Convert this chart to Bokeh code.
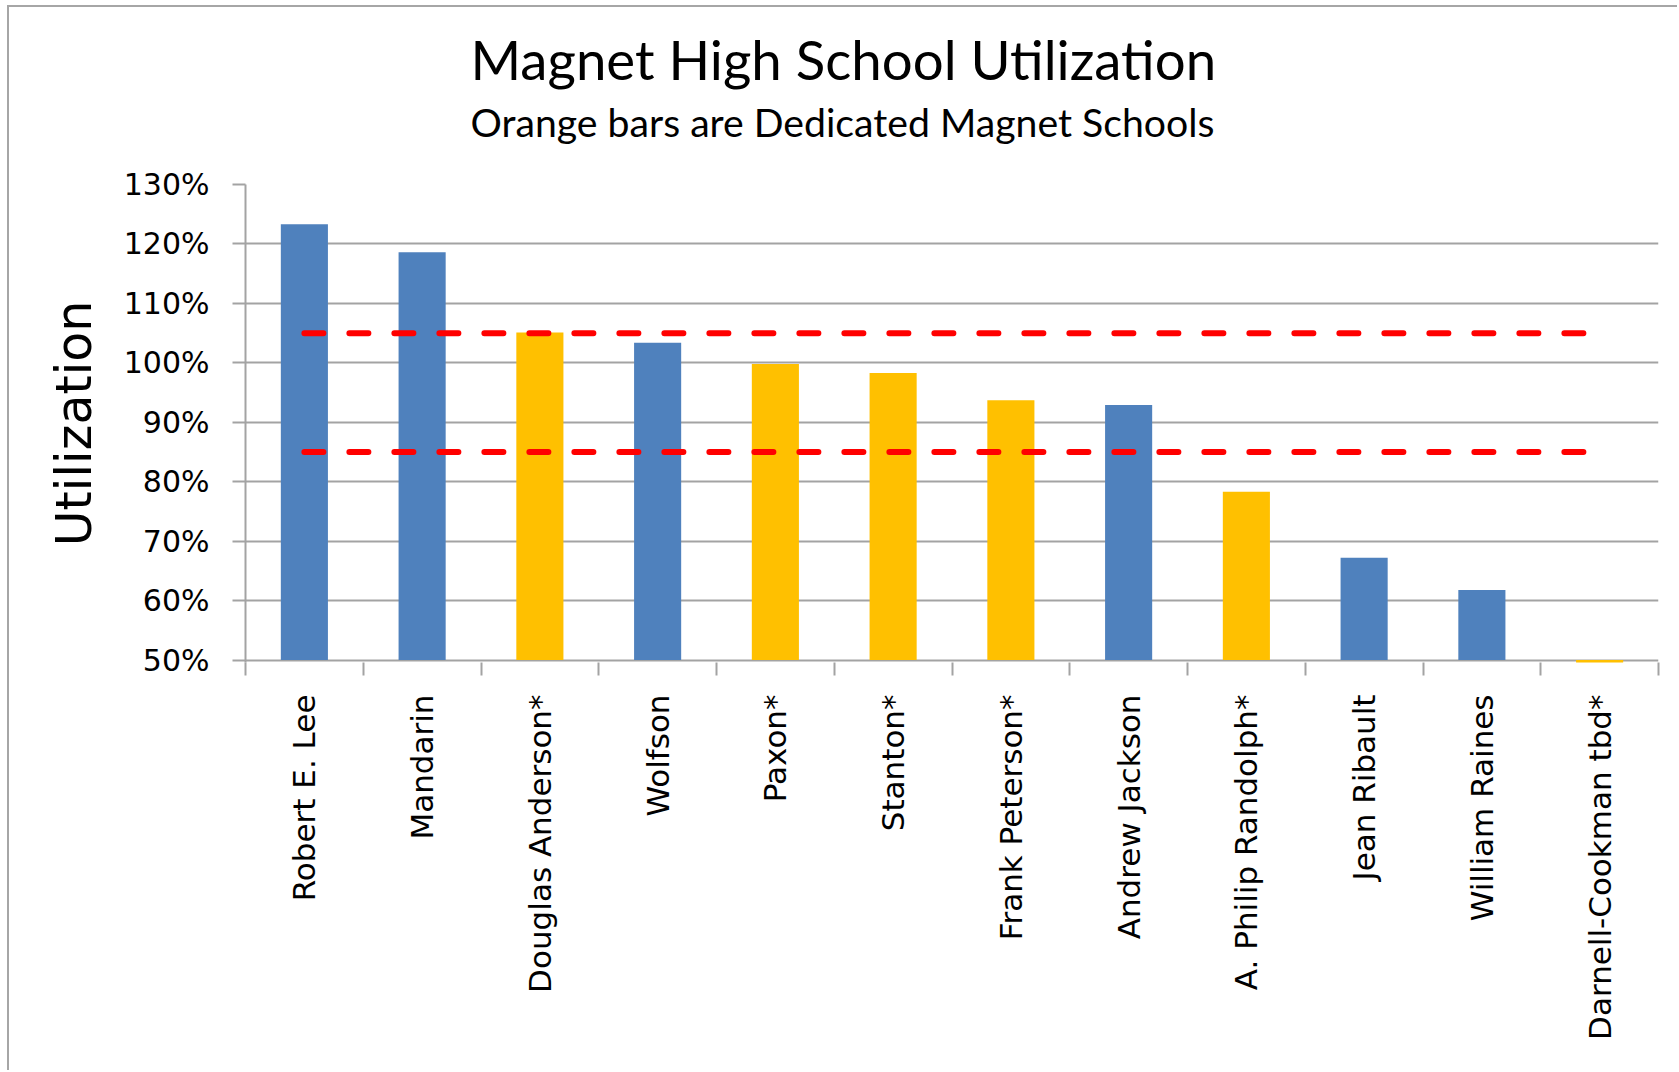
import math
from bokeh.plotting import figure
from bokeh.models import Range1d, FixedTicker, PrintfTickFormatter, Title, ColumnDataSource
from bokeh.embed import file_html
from bokeh.resources import INLINE

# ---- data ----
schools = ["Robert E. Lee", "Mandarin", "Douglas Anderson*", "Wolfson", "Paxon*",
           "Stanton*", "Frank Peterson*", "Andrew Jackson", "A. Philip Randolph*",
           "Jean Ribault", "William Raines", "Darnell-Cookman tbd*"]
utilization = [123.3, 118.6, 105.1, 103.4, 99.8, 98.3, 93.7, 92.9, 78.3, 67.2, 61.8, 0.0]
dedicated = [False, False, True, False, True, True, True, False, True, False, False, True]
target_high = 105
target_low = 85
y_ticks = [50, 60, 70, 80, 90, 100, 110, 120, 130]

TITLE = "Magnet High School Utilization"
SUBTITLE = "Orange bars are Dedicated Magnet Schools"

BLUE = "#4F81BD"
ORANGE = "#FFC000"
GRID = "#a3a3a3"

centers = [i + 0.5 for i in range(len(schools))]
bounds = list(range(len(schools) + 1))
colors = [ORANGE if d else BLUE for d in dedicated]

src = ColumnDataSource(dict(x=centers, top=utilization, color=colors, name=schools))

# chart box: 2px grey border on top/left, drawn with CSS around the canvas
MX, MY, BW = 7, 5, 2
OX, OY = MX + BW, MY + BW            # canvas origin on the page
W, H = 1679 - OX, 1072 - OY
LEFT, TOP = 245 - OX, 184 - OY
RIGHT = W - (1658 - OX)
BOTTOM = H - (662 - OY)

p = figure(width=W, height=H, output_backend="svg", toolbar_location=None,
           title=None, x_range=Range1d(0, len(schools)), y_range=Range1d(49.6, 130),
           min_border_left=LEFT, min_border_right=RIGHT, min_border_top=TOP,
           min_border_bottom=BOTTOM, tools="")
p.outline_line_color = None
p.background_fill_color = "white"
p.border_fill_color = "white"
p.styles = {"margin-left": f"{MX}px", "margin-top": f"{MY}px",
            "border-top": f"{BW}px solid #a6a6a6", "border-left": f"{BW}px solid #a6a6a6"}

p.vbar(x="x", top="top", bottom=y_ticks[0], width=0.4, fill_color="color",
       line_color=None, source=src)

for t in (target_high, target_low):
    p.line(x=[centers[0], centers[-1]], y=[t, t], line_color="#FF0000", line_width=6,
           line_dash="19 26", line_cap="round")

# y axis
p.yaxis.ticker = FixedTicker(ticks=y_ticks)
p.yaxis.formatter = PrintfTickFormatter(format="%d%%")
p.yaxis.axis_line_color = GRID
p.yaxis.axis_line_width = 2
p.yaxis.major_tick_line_color = GRID
p.yaxis.major_tick_line_width = 2
p.yaxis.major_tick_out = 13
p.yaxis.major_tick_in = 0
p.yaxis.minor_tick_line_color = None
p.yaxis.major_label_standoff = 23
p.yaxis.major_label_text_font = "DejaVu Sans"
p.yaxis.major_label_text_font_size = "30px"
p.yaxis.major_label_text_color = "black"
p.yaxis.axis_label = "Utilization"
p.yaxis.axis_label_text_font = "DejaVu Sans"
p.yaxis.axis_label_text_font_size = "49px"
p.yaxis.axis_label_text_font_style = "normal"
p.yaxis.axis_label_text_color = "black"
p.yaxis.axis_label_standoff = 18

p.ygrid.ticker = FixedTicker(ticks=y_ticks)
p.ygrid.grid_line_color = GRID
p.ygrid.grid_line_width = 2
p.xgrid.visible = False

# x axis: labels at category centres, ticks at category boundaries
p.xaxis.ticker = FixedTicker(ticks=centers, minor_ticks=bounds)
p.xaxis.major_label_overrides = {c: s for c, s in zip(centers, schools)}
p.xaxis.axis_line_color = None
p.xaxis.major_tick_line_color = None
p.xaxis.major_tick_out = 0
p.xaxis.major_tick_in = 0
p.xaxis.minor_tick_line_color = GRID
p.xaxis.minor_tick_line_width = 2
p.xaxis.minor_tick_out = 13
p.xaxis.minor_tick_in = 0
p.xaxis.major_label_orientation = math.pi / 2
p.xaxis.major_label_standoff = 19
p.xaxis.major_label_text_font = "DejaVu Sans"
p.xaxis.major_label_text_font_size = "31px"
p.xaxis.major_label_text_color = "black"

# titles (the first one added sits closest to the plot)
sub = Title(text=SUBTITLE, align="left", offset=225, vertical_align="bottom",
            text_font="Lato", text_font_size="39.2px", text_font_style="normal",
            text_color="black", standoff=79)
main = Title(text=TITLE, align="left", offset=225, vertical_align="bottom",
             text_font="Lato", text_font_size="54.6px", text_font_style="normal",
             text_color="black", standoff=-71)
p.add_layout(sub, "above")
p.add_layout(main, "above")

open("out.html", "w").write(file_html(p, INLINE))
